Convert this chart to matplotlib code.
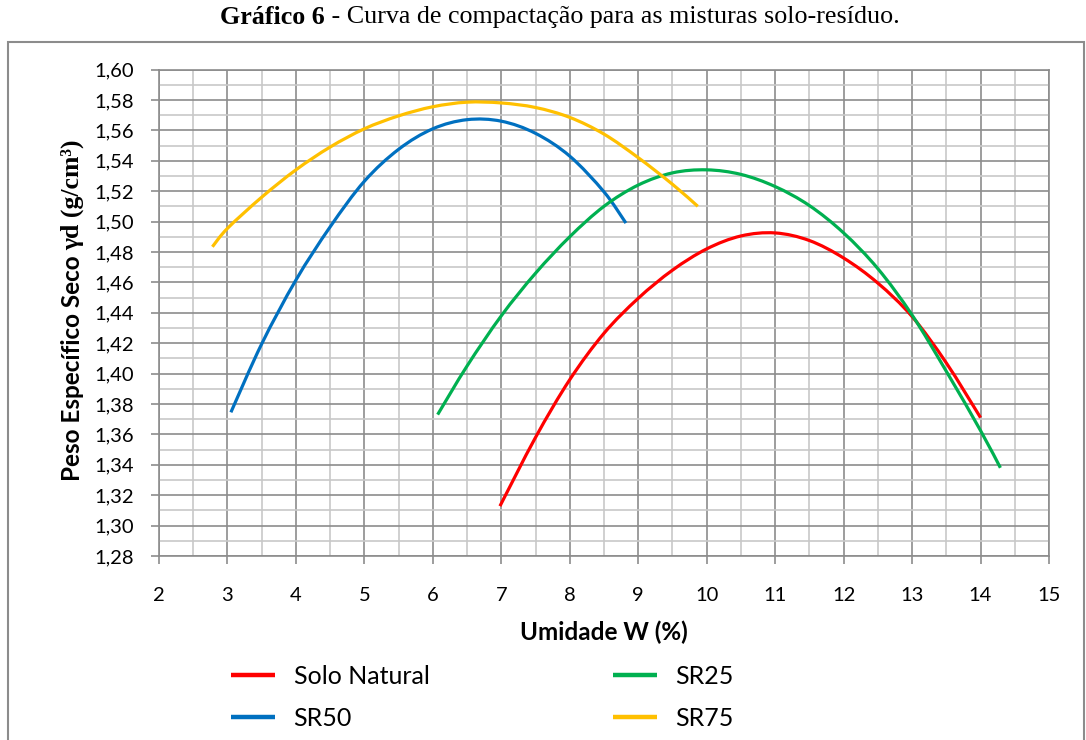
import numpy as np
import matplotlib.pyplot as plt
from matplotlib.ticker import MultipleLocator, FuncFormatter
from matplotlib.patches import Rectangle, PathPatch
from matplotlib.path import Path
from matplotlib.lines import Line2D

# curves (Umidade W %, peso especifico g/cm3)
w_solo = [6.98, 7.5, 8.0, 8.5, 9.0, 9.5, 10.0, 10.5, 11.0, 11.5, 12.0, 12.5, 13.0, 13.5, 14.0]
g_solo = [1.3128, 1.358, 1.396, 1.4265, 1.4495, 1.468, 1.482, 1.4905, 1.4925, 1.4875, 1.476, 1.4595, 1.4375, 1.407, 1.371]

w_sr25 = [6.07, 6.5, 7.0, 7.5, 8.0, 8.5, 9.0, 9.5, 10.0, 10.5, 11.0, 11.5, 12.0, 12.5, 13.0, 13.5, 14.0, 14.29]
g_sr25 = [1.373, 1.405, 1.438, 1.466, 1.490, 1.510, 1.524, 1.532, 1.534, 1.531, 1.523, 1.5105, 1.4925, 1.469, 1.4385, 1.4015, 1.3625, 1.338]

w_sr50 = [3.05, 3.5, 4.0, 4.5, 5.0, 5.5, 6.0, 6.5, 7.0, 7.5, 8.0, 8.5, 8.82]
g_sr50 = [1.3745, 1.4195, 1.4615, 1.4965, 1.5265, 1.5475, 1.561, 1.567, 1.566, 1.558, 1.543, 1.5195, 1.499]

w_sr75 = [2.78, 3.0, 3.5, 4.0, 4.5, 5.0, 5.5, 6.0, 6.5, 7.0, 7.5, 8.0, 8.5, 9.0, 9.5, 9.87]
g_sr75 = [1.4834, 1.4955, 1.516, 1.534, 1.549, 1.561, 1.5695, 1.5755, 1.5785, 1.578, 1.575, 1.5685, 1.5575, 1.542, 1.5245, 1.510]

series = [
    ('Solo Natural', w_solo, g_solo, '#FF0000'),
    ('SR50', w_sr50, g_sr50, '#0070C0'),
    ('SR25', w_sr25, g_sr25, '#00B050'),
    ('SR75', w_sr75, g_sr75, '#FFC000'),
]


def smooth_path(xs, ys):
    # Excel-style smoothed line: cubic bezier through the points
    p = np.column_stack([xs, ys]).astype(float)
    n = len(p)
    verts = [p[0]]
    codes = [Path.MOVETO]
    for i in range(n - 1):
        p0 = p[i - 1] if i > 0 else p[i]
        p3 = p[i + 2] if i + 2 < n else p[i + 1]
        c1 = p[i] + (p[i + 1] - p0) / 6.0
        c2 = p[i + 1] - (p3 - p[i]) / 6.0
        verts += [c1, c2, p[i + 1]]
        codes += [Path.CURVE4] * 3
    return Path(verts, codes)


plt.rcParams['font.family'] = ['Lato', 'DejaVu Sans']

fig = plt.figure(figsize=(10.86, 7.40), dpi=100)
W, H = 1086.0, 740.0
ax = fig.add_axes([159 / W, 1 - 556 / H, (1049 - 159) / W, (556 - 69.5) / H])

handles = []
for name, xs, ys, col in series:
    ax.add_patch(PathPatch(smooth_path(xs, ys), fc='none', ec=col, lw=2.3,
                           capstyle='butt', zorder=3))
    handles.append(Line2D([], [], color=col, lw=3.2, label=name, solid_capstyle='butt'))

ax.set_xlim(2, 15)
ax.set_ylim(1.28, 1.60)
ax.xaxis.set_major_locator(MultipleLocator(1))
ax.xaxis.set_minor_locator(MultipleLocator(0.5))
ax.yaxis.set_major_locator(MultipleLocator(0.02))
ax.yaxis.set_minor_locator(MultipleLocator(0.01))
ax.yaxis.set_major_formatter(FuncFormatter(lambda v, p: f'{v:.2f}'.replace('.', ',')))

ax.grid(which='major', color='#8C8C8C', lw=1.2)
ax.grid(which='minor', color='#C8C8C8', lw=1.2)
ax.set_axisbelow(True)
for s in ax.spines.values():
    s.set_color('#8C8C8C')
    s.set_linewidth(1.2)

ax.tick_params(which='major', direction='out', length=6, width=1.2, color='#8C8C8C',
               labelsize=14.5, labelcolor='black')
ax.tick_params(axis='x', which='major', pad=16)
ax.tick_params(axis='y', which='major', pad=12)
ax.tick_params(which='minor', length=0)

fig.text(604 / W, 1 - 632 / H, 'Umidade W (%)', ha='center', va='center',
         fontsize=17.5, fontweight='bold')

# y label: sans part + serif part, stacked vertically
fig.canvas.draw()
r = fig.canvas.get_renderer()
t1 = fig.text(72 / W, 1 - 481 / H, 'Peso Específico Seco ', rotation=90, rotation_mode='anchor',
              ha='left', va='center', fontsize=17.5, fontweight='bold')
bb = t1.get_window_extent(r)
t2 = fig.text(72 / W, bb.y1 / H, 'γd (g/cm³)', rotation=90, rotation_mode='anchor',
              ha='left', va='center', fontsize=18.5, fontweight='bold', family='Liberation Serif')

# title: bold + regular serif pieces, centered together
ta = fig.text(0, 1 - 17 / H, 'Gráfico 6', fontsize=18.7, fontweight='bold',
              family='Liberation Serif', va='center', ha='left')
tb = fig.text(0, 1 - 17 / H, ' - Curva de compactação para as misturas solo-resíduo.', fontsize=18.7,
              family='Liberation Serif', va='center', ha='left')
wa = ta.get_window_extent(r).width
wb = tb.get_window_extent(r).width
x0 = 560 - (wa + wb) / 2
ta.set_x(x0 / W)
tb.set_x((x0 + wa) / W)

fig.legend(handles=handles, loc='upper left', bbox_to_anchor=(231 / W, 1 - 665 / H),
           ncol=2, frameon=False, fontsize=18, handlelength=1.75, handletextpad=0.75,
           columnspacing=7.35, labelspacing=0.74, borderpad=0, borderaxespad=0)

fig.add_artist(Rectangle((8 / W, -0.02), 1076 / W, 1 - 42 / H + 0.02,
                         transform=fig.transFigure, fill=False, ec='#8C8C8C', lw=1.5))

fig.savefig('out.png', dpi=100)
